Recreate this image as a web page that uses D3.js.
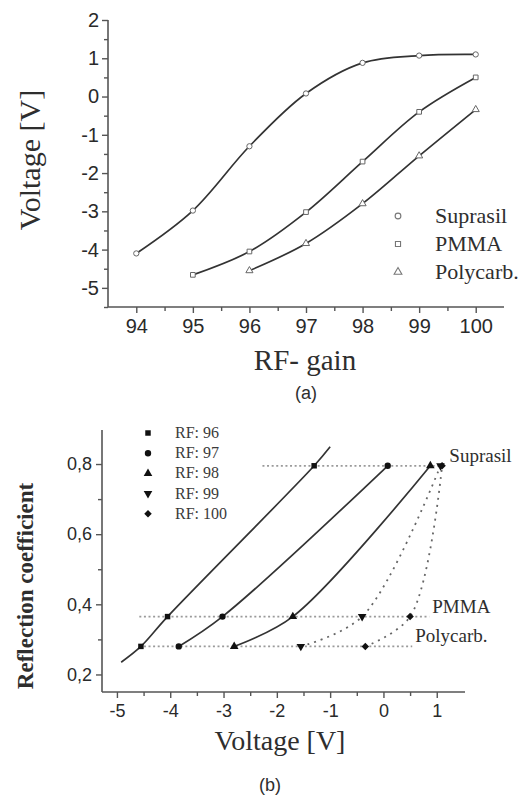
<!DOCTYPE html>
<html><head><meta charset="utf-8">
<script src="https://cdn.jsdelivr.net/npm/d3@7"></script>
<style>
body{margin:0;background:#fff}
svg{display:block}
.tick text{fill:#2a2a2a}
</style>
</head><body>
<svg id="fig" width="522" height="800"></svg>
<script>
// ---- Panel (a): output voltage versus RF gain ----
const samples = ["Suprasil", "PMMA", "Polycarb."];
const suprasilGain = [94, 95, 96, 97, 98, 99, 100];
const suprasilVolt = [-4.1, -2.98, -1.3, 0.08, 0.88, 1.07, 1.1];
const pmmaGain = [95, 96, 97, 98, 99, 100];
const pmmaVolt = [-4.66, -4.05, -3.02, -1.7, -0.4, 0.5];
const polyGain = [96, 97, 98, 99, 100];
const polyVolt = [-4.55, -3.84, -2.8, -1.55, -0.34];
const gainTicks = [94, 95, 96, 97, 98, 99, 100];
const voltTicks = [2, 1, 0, -1, -2, -3, -4, -5];

// ---- Panel (b): reflection coefficient versus voltage ----
const reflCoef = [0.795, 0.365, 0.28];          // Suprasil, PMMA, Polycarb.
const rfSettings = [96, 97, 98, 99, 100];
const rfLabels = ["RF: 96", "RF: 97", "RF: 98", "RF: 99", "RF: 100"];
const rf96Extension = [[-4.92, 0.235], [-1.0, 0.849]]; // fitted line ends for RF 96
const rowSpan = [[-2.27, 1.18], [-4.58, 0.86], [-4.58, 0.54]]; // dotted guide extents (V)
const reflTicks = [0.2, 0.4, 0.6, 0.8];
const voltTicksB = [-5, -4, -3, -2, -1, 0, 1];

const svg = d3.select("#fig");
const ink = "#2e2e2e";
const sans = "'Liberation Sans', Arial, sans-serif";
const serif = "'Liberation Serif', 'Times New Roman', serif";

// ================= Panel (a) =================
const xA = d3.scaleLinear().domain([93.5, 100.5]).range([108, 504]);
const yA = d3.scaleLinear().domain([-5.5, 2]).range([307, 20]);

const gA = svg.append("g");
// minor ticks
gA.append("g").attr("transform", "translate(0,307)")
  .call(d3.axisBottom(xA).tickValues(d3.range(94.5, 100.5, 1)).tickSize(4).tickFormat(""))
  .call(g => g.select(".domain").remove());
gA.append("g").attr("transform", "translate(108,0)")
  .call(d3.axisLeft(yA).tickValues(d3.range(-5.5, 2, 1)).tickSize(4).tickFormat(""))
  .call(g => g.select(".domain").remove());
const axAx = gA.append("g").attr("transform", "translate(0,307)")
  .call(d3.axisBottom(xA).tickValues(gainTicks).tickSize(6).tickPadding(6).tickFormat(d => String(d)));
const axAy = gA.append("g").attr("transform", "translate(108,0)")
  .call(d3.axisLeft(yA).tickValues(voltTicks).tickSize(6).tickPadding(3).tickFormat(d => String(d)));
[axAx, axAy].forEach(a => {
  a.selectAll("path.domain").attr("stroke", "#555").attr("stroke-width", 1.6);
  a.selectAll(".tick text").attr("font-family", sans).attr("font-size", 20);
});
gA.selectAll(".tick line").attr("stroke", "#555").attr("stroke-width", 1.4);
axAx.select(".domain").attr("d", "M108,0H504");
axAy.select(".domain").attr("d", "M0,20V307");

const seriesA = [
  {name: samples[0], gain: suprasilGain, volt: suprasilVolt, sym: d3.symbolCircle},
  {name: samples[1], gain: pmmaGain, volt: pmmaVolt, sym: d3.symbolSquare},
  {name: samples[2], gain: polyGain, volt: polyVolt, sym: d3.symbolTriangle}
];
const lineA = d3.line().x(d => xA(d[0])).y(d => yA(d[1])).curve(d3.curveCatmullRom.alpha(0.5));
seriesA.forEach(s => {
  const pts = s.gain.map((g, i) => [g, s.volt[i]]);
  gA.append("path").datum(pts).attr("d", lineA)
    .attr("fill", "none").attr("stroke", "#333").attr("stroke-width", 1.7);
  gA.selectAll(null).data(pts).join("path")
    .attr("transform", d => `translate(${xA(d[0])},${yA(d[1])})`)
    .attr("d", d3.symbol().type(s.sym).size(22))
    .attr("fill", "#fff").attr("stroke", "#666").attr("stroke-width", 1);
});

// legend (a)
const legA = gA.append("g");
seriesA.forEach((s, i) => {
  const y = 216 + i * 28;
  legA.append("path").attr("transform", `translate(398,${y})`)
    .attr("d", d3.symbol().type(s.sym).size(26))
    .attr("fill", "#fff").attr("stroke", "#777").attr("stroke-width", 1.1);
  legA.append("text").attr("x", 435).attr("y", y + 7)
    .attr("font-family", serif).attr("font-size", 22).attr("fill", ink).text(s.name);
});

// titles (a)
gA.append("text").attr("transform", "translate(40,160) rotate(-90)")
  .attr("text-anchor", "middle").attr("font-family", serif).attr("font-size", 30)
  .attr("fill", ink).text("Voltage [V]");
gA.append("text").attr("x", 305).attr("y", 370).attr("text-anchor", "middle")
  .attr("font-family", serif).attr("font-size", 29).attr("fill", ink).text("RF- gain");
gA.append("text").attr("x", 306).attr("y", 399).attr("text-anchor", "middle")
  .attr("font-family", sans).attr("font-size", 18).attr("fill", ink).text("(a)");

// ================= Panel (b) =================
const xB = d3.scaleLinear().domain([-5.28, 1.53]).range([102, 465]);
const yB = d3.scaleLinear().domain([0.15, 0.897]).range([692, 430]);
const gB = svg.append("g");

gB.append("g").attr("transform", "translate(0,692)")
  .call(d3.axisBottom(xB).tickValues(d3.range(-4.5, 1.5, 1)).tickSize(4).tickFormat(""))
  .call(g => g.select(".domain").remove());
gB.append("g").attr("transform", "translate(102,0)")
  .call(d3.axisLeft(yB).tickValues([0.3, 0.5, 0.7]).tickSize(4).tickFormat(""))
  .call(g => g.select(".domain").remove());
const axBx = gB.append("g").attr("transform", "translate(0,692)")
  .call(d3.axisBottom(xB).tickValues(voltTicksB).tickSize(6).tickPadding(6).tickFormat(d => String(d)));
const axBy = gB.append("g").attr("transform", "translate(102,0)")
  .call(d3.axisLeft(yB).tickValues(reflTicks).tickSize(6).tickPadding(4)
    .tickFormat(d => d3.format(".1f")(d).replace(".", ",")));
[axBx, axBy].forEach(a => {
  a.selectAll("path.domain").attr("stroke", "#555").attr("stroke-width", 1.6);
  a.selectAll(".tick text").attr("font-family", sans).attr("font-size", 18);
});
axBx.select(".domain").attr("d", "M102,0H465");
axBy.select(".domain").attr("d", "M0,430V692");
gB.selectAll(".tick line").attr("stroke", "#555").attr("stroke-width", 1.4);

// voltage at each RF setting for each sample, taken from panel (a)
const voltAt = (gains, volts, rf) => volts[gains.indexOf(rf)];
const sampleData = [
  [suprasilGain, suprasilVolt],
  [pmmaGain, pmmaVolt],
  [polyGain, polyVolt]
];

// dotted horizontal guides at each sample's reflection coefficient
reflCoef.forEach((r, i) => {
  gB.append("line")
    .attr("x1", xB(rowSpan[i][0])).attr("x2", xB(rowSpan[i][1]))
    .attr("y1", yB(r)).attr("y2", yB(r))
    .attr("stroke", "#9a9a9a").attr("stroke-width", 1.8).attr("stroke-dasharray", "2,2.6");
});

const lineB = d3.line().x(d => xB(d[0])).y(d => yB(d[1])).curve(d3.curveCatmullRom.alpha(0.5));
// marker per RF setting: square, circle, triangle up, triangle down, diamond (rotated square)
const rfSymbols = [d3.symbolSquare, d3.symbolCircle, d3.symbolTriangle, d3.symbolTriangle, d3.symbolSquare];
const rfRotate = [0, 0, 0, 180, 45];
const rfSize = [30, 32, 32, 32, 28];

rfSettings.forEach((rf, k) => {
  // points ordered from lowest to highest reflection
  let pts = [2, 1, 0].map(i => [voltAt(sampleData[i][0], sampleData[i][1], rf), reflCoef[i]]);
  if (rf === 96) pts = [rf96Extension[0], ...pts, rf96Extension[1]];
  const dotted = rf >= 99;
  gB.append("path").datum(pts).attr("d", lineB).attr("fill", "none")
    .attr("stroke", dotted ? "#666" : "#333")
    .attr("stroke-width", dotted ? 1.8 : 1.7)
    .attr("stroke-dasharray", dotted ? "2,5" : null);
});

rfSettings.forEach((rf, k) => {
  const pts = [0, 1, 2].map(i => [voltAt(sampleData[i][0], sampleData[i][1], rf), reflCoef[i]]);
  gB.selectAll(null).data(pts).join("path")
    .attr("transform", d => `translate(${xB(d[0])},${yB(d[1])}) rotate(${rfRotate[k]})`)
    .attr("d", d3.symbol().type(rfSymbols[k]).size(rfSize[k]))
    .attr("fill", "#111");
});

// sample labels at the end of each guide
reflCoef.forEach((r, i) => {
  gB.append("text").attr("x", xB(rowSpan[i][1]) + 3).attr("y", yB(r) - 4)
    .attr("font-family", serif).attr("font-size", 19).attr("fill", ink).text(samples[i]);
});

// legend (b)
rfLabels.forEach((lab, k) => {
  const y = 433 + k * 20.2;
  gB.append("path").attr("transform", `translate(148,${y}) rotate(${rfRotate[k]})`)
    .attr("d", d3.symbol().type(rfSymbols[k]).size(rfSize[k])).attr("fill", "#111");
  gB.append("text").attr("x", 175).attr("y", y + 5)
    .attr("font-family", serif).attr("font-size", 16).attr("fill", "#3a3a3a").text(lab);
});

// titles (b)
gB.append("text").attr("transform", "translate(33,586) rotate(-90)")
  .attr("text-anchor", "middle").attr("font-family", serif).attr("font-size", 23)
  .attr("font-weight", "bold").attr("fill", ink).text("Reflection coefficient");
gB.append("text").attr("x", 280).attr("y", 750).attr("text-anchor", "middle")
  .attr("font-family", serif).attr("font-size", 28).attr("fill", ink).text("Voltage [V]");
gB.append("text").attr("x", 270).attr("y", 791).attr("text-anchor", "middle")
  .attr("font-family", sans).attr("font-size", 18).attr("fill", ink).text("(b)");
</script>
</body></html>
